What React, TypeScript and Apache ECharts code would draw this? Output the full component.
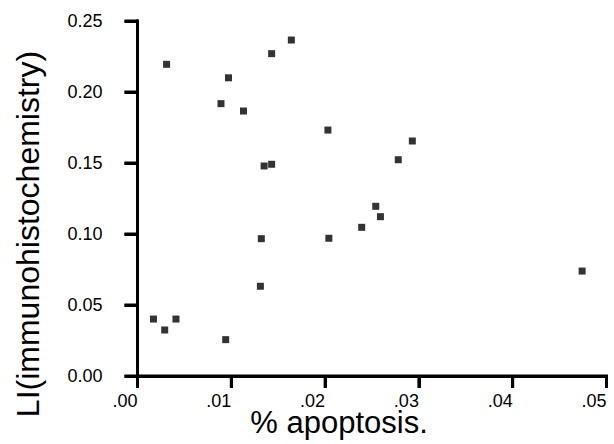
import React, { useEffect, useRef } from "react";
import * as echarts from "echarts";

const apoptosis = [0.0031, 0.0097, 0.0143, 0.0164, 0.0089, 0.0113, 0.0203, 0.0135, 0.0143, 0.0293, 0.0278, 0.0254, 0.0259, 0.0239, 0.0204, 0.0132, 0.0474, 0.0131, 0.0017, 0.0029, 0.0041, 0.0094];
const liValues = [0.2195, 0.210, 0.227, 0.2366, 0.1918, 0.1866, 0.1732, 0.1479, 0.1491, 0.1655, 0.1523, 0.1195, 0.1122, 0.1047, 0.097, 0.0967, 0.0739, 0.0632, 0.0401, 0.0324, 0.0401, 0.0256];
const xTickLabels = [".00", ".01", ".02", ".03", ".04", ".05"];
const yTickLabels = ["0.00", "0.05", "0.10", "0.15", "0.20", "0.25"];
const xTitle = "% apoptosis.";
const yTitle = "LI(immunohistochemistry)";

const FONT = "'Liberation Sans', Arial, Helvetica, sans-serif";

export default function App() {
  const ref = useRef<HTMLDivElement>(null);
  useEffect(() => {
    if (!ref.current) return;
    const chart = echarts.init(ref.current, null, { renderer: "svg" });
    const xTickValues = xTickLabels.map((s) => parseFloat(s));
    const yTickValues = yTickLabels.map((s) => parseFloat(s));
    const xMin = xTickValues[0];
    const xMax = xTickValues[xTickValues.length - 1];
    const yMin = yTickValues[0];
    const yMax = yTickValues[yTickValues.length - 1];
    const W = 3;
    chart.setOption({
      animation: false,
      grid: { left: 137.5, right: 7.5, top: 21, bottom: 68, outerBoundsMode: "none", containLabel: false },
      xAxis: {
        type: "value",
        min: xMin,
        max: xMax,
        interval: 0.01,
        name: xTitle,
        nameLocation: "middle",
        nameGap: 31,
        nameMoveOverlap: false,
        nameTextStyle: { color: "#000", fontFamily: FONT, fontSize: 31, padding: [0, 66, 0, 0] },
        axisLine: { show: true, onZero: false, lineStyle: { color: "#000000", width: 3 } },
        axisTick: { show: true, length: 12, lineStyle: { color: "#000000", width: 3 } },
        splitLine: { show: false },
        axisLabel: {
          color: "#000",
          fontFamily: FONT,
          fontSize: 18,
          margin: 16,
          align: "right",
          formatter: (v: number) => xTickLabels[Math.round(v / 0.01)],
        },
      },
      yAxis: {
        type: "value",
        min: yMin,
        max: yMax,
        interval: 0.05,
        name: yTitle,
        nameLocation: "middle",
        nameGap: 94,
        nameMoveOverlap: false,
        nameTextStyle: { color: "#000", fontFamily: FONT, fontSize: 32, padding: [0, 71, 0, 0] },
        axisLine: { show: true, onZero: false, lineStyle: { color: "#000000", width: 3 } },
        axisTick: { show: true, length: 13, lineStyle: { color: "#000000", width: 3 } },
        splitLine: { show: false },
        axisLabel: {
          color: "#000",
          fontFamily: FONT,
          fontSize: 18,
          margin: 35,
          formatter: (v: number) => yTickLabels[Math.round(v / 0.05)],
        },
      },
      series: [
        {
          type: "custom",
          silent: true,
          z: 1,
          data: [[xMin, yMin]],
          renderItem: (_params: any, api: any) => {
            const o = api.coord([xMin, yMin]);
            const xe = api.coord([xMax, yMin]);
            const ye = api.coord([xMin, yMax]);
            const fill = { fill: "#000" };
            const children: any[] = [
              { type: "rect", shape: { x: o[0] - W / 2, y: o[1] - W / 2, width: xe[0] - o[0] + W, height: W }, style: fill },
              { type: "rect", shape: { x: o[0] - W / 2, y: ye[1] - W / 2, width: W, height: o[1] - ye[1] + W }, style: fill },
            ];
            xTickValues.forEach((v) => {
              const p = api.coord([v, yMin]);
              children.push({ type: "rect", shape: { x: p[0] - W / 2, y: p[1], width: W, height: 12 }, style: fill });
            });
            yTickValues.forEach((v) => {
              const p = api.coord([xMin, v]);
              children.push({ type: "rect", shape: { x: p[0] - 13, y: p[1] - W / 2, width: 13, height: W }, style: fill });
            });
            return { type: "group", children };
          },
        },
        {
          type: "scatter",
          symbol: "rect",
          symbolSize: 7,
          z: 3,
          itemStyle: { color: "#000" },
          data: apoptosis.map((x, i) => [x, liValues[i]]),
        },
      ],
    });
    return () => chart.dispose();
  }, []);
  return (
    <div>
      <div ref={ref} style={{ position: "fixed", left: 0, top: 0, width: 614, height: 444, background: "#fff" }} />
    </div>
  );
}
